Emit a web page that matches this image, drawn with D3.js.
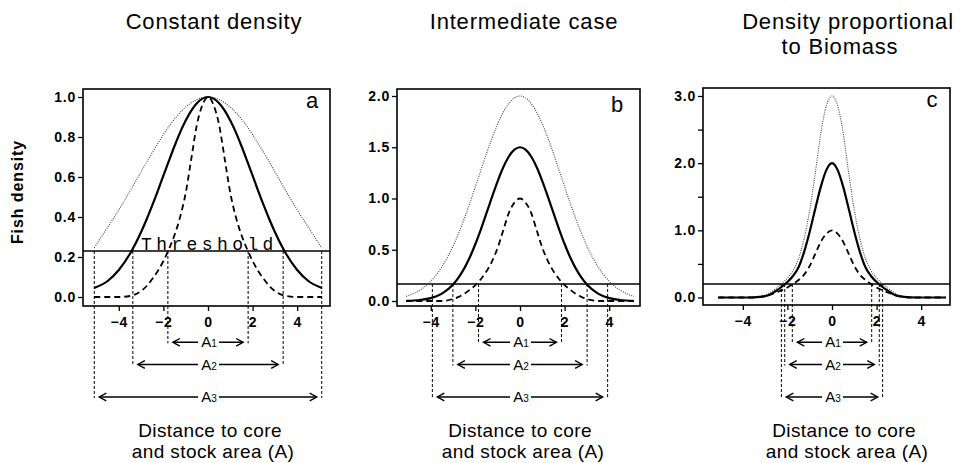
<!DOCTYPE html>
<html><head><meta charset="utf-8">
<script src="https://cdn.jsdelivr.net/npm/d3@7"></script>
<style>body{margin:0;background:#fff} svg{display:block}</style>
</head><body><svg id="chart" width="961" height="463"></svg>
<script>
// ---------- data ----------
const distance = [-5.1,-4.5,-4,-3.5,-3,-2.75,-2.5,-2.25,-2,-1.75,-1.5,-1.25,-1,-0.75,-0.5,-0.25,0,0.25,0.5,0.75,1,1.25,1.5,1.75,2,2.25,2.5,2.75,3,3.5,4,4.5,5.1];

// panel a : constant density
const aDotted = [0.245,0.349,0.435,0.529,0.626,0.675,0.722,0.768,0.812,0.853,0.890,0.922,0.949,0.971,0.987,0.997,1.000,0.997,0.987,0.971,0.949,0.922,0.890,0.853,0.812,0.768,0.722,0.675,0.626,0.529,0.435,0.349,0.245];
const aSolid  = [0.045,0.080,0.135,0.216,0.325,0.389,0.458,0.531,0.607,0.682,0.755,0.823,0.882,0.932,0.969,0.992,1.000,0.992,0.969,0.932,0.882,0.823,0.755,0.682,0.607,0.531,0.458,0.389,0.325,0.216,0.135,0.080,0.045];
const aDashed = [0,0,0,0.005,0.03,0.055,0.09,0.13,0.18,0.24,0.31,0.40,0.52,0.69,0.86,0.96,1.00,0.96,0.86,0.69,0.52,0.40,0.31,0.24,0.18,0.13,0.09,0.055,0.03,0.005,0,0,0];

// panel b : intermediate case
const bDotted = [0.045,0.104,0.193,0.334,0.537,0.663,0.803,0.955,1.115,1.278,1.440,1.592,1.728,1.842,1.928,1.982,2.000,1.982,1.928,1.842,1.728,1.592,1.440,1.278,1.115,0.955,0.803,0.663,0.537,0.334,0.193,0.104,0.045];
const bSolid  = [0.002,0.010,0.028,0.072,0.161,0.230,0.318,0.427,0.556,0.702,0.859,1.018,1.170,1.305,1.410,1.477,1.500,1.477,1.410,1.305,1.170,1.018,0.859,0.702,0.556,0.427,0.318,0.230,0.161,0.072,0.028,0.010,0.002];
const bDashed = [0,0,0,0,0.02,0.04,0.07,0.11,0.155,0.215,0.29,0.39,0.52,0.69,0.86,0.96,1.00,0.96,0.86,0.69,0.52,0.39,0.29,0.215,0.155,0.11,0.07,0.04,0.02,0,0,0,0];

// panel c : density proportional to biomass
const cDotted = [0,0,0,0.005,0.035,0.08,0.14,0.21,0.29,0.40,0.58,0.88,1.30,1.85,2.45,2.86,3.00,2.86,2.45,1.85,1.30,0.88,0.58,0.40,0.29,0.21,0.14,0.08,0.035,0.005,0,0,0];
const cSolid  = [0,0,0,0.003,0.02,0.05,0.10,0.16,0.23,0.32,0.45,0.68,0.98,1.32,1.65,1.90,2.00,1.90,1.65,1.32,0.98,0.68,0.45,0.32,0.23,0.16,0.10,0.05,0.02,0.003,0,0,0];
const cDashed = [0,0,0,0,0.02,0.045,0.075,0.11,0.15,0.20,0.26,0.34,0.47,0.65,0.83,0.95,1.00,0.95,0.83,0.65,0.47,0.34,0.26,0.20,0.15,0.11,0.075,0.045,0.02,0,0,0,0];

const thresholds = [0.23, 0.166, 0.2];
// half-widths of A1, A2, A3 (where curves cross the threshold)
const aExtent = [1.8, 3.37, 5.1];
const bExtent = [1.86, 3.01, 3.93];
const cExtent = [1.78, 2.12, 2.27];

const titles = [["Constant density"], ["Intermediate case"], ["Density proportional", "to Biomass"]];
const letters = ["a", "b", "c"];
const xTicks = [-4, -2, 0, 2, 4];
const yTicksA = [0, 0.2, 0.4, 0.6, 0.8, 1.0];
const yTicksB = [0, 0.5, 1.0, 1.5, 2.0];
const yTicksC = [0, 0.5, 1.0, 1.5, 2.0, 2.5, 3.0];
const yTopVals = [1, 2, 3];
const areaLabels = ["1", "2", "3"];
const yTitle = "Fish density";
const xTitle = ["Distance to core", "and stock area (A)"];

// ---------- layout ----------
const L = [
  {fx0:83,  fy0:89, fx1:330, fy1:306, cx:208, unit:22.3, y0:297,   yTop:97, tx:214, lx:312, ly:108, bx:211},
  {fx0:397, fy0:89, fx1:640, fy1:306, cx:520, unit:22.3, y0:301,   yTop:96, tx:524, lx:617, ly:112, bx:521},
  {fx0:703, fy0:88, fx1:950, fy1:305, cx:832, unit:22.3, y0:297.5, yTop:96, tx:848, lx:932, ly:107, bx:845}
];
const arrowY = [342.3, 364.5, 397];

const panels = [
  {dotted:aDotted, solid:aSolid, dashed:aDashed, ext:aExtent, yt:yTicksA, fmt:d=>d3.format(".1f")(d)},
  {dotted:bDotted, solid:bSolid, dashed:bDashed, ext:bExtent, yt:yTicksB, fmt:d=>d3.format(".1f")(d)},
  {dotted:cDotted, solid:cSolid, dashed:cDashed, ext:cExtent, yt:yTicksC, fmt:d=>Number.isInteger(d)?d3.format(".1f")(d):""}
];

const svg = d3.select("#chart");
const FONT = "'Liberation Sans', Arial, sans-serif";

panels.forEach((p, i) => {
  const l = L[i];
  const x = d3.scaleLinear().domain([0, 1]).range([l.cx, l.cx + l.unit]);
  const y = d3.scaleLinear().domain([0, yTopVals[i]]).range([l.y0, l.yTop]);
  const g = svg.append("g");

  // titles
  titles[i].forEach((t, k) => {
    g.append("text").attr("x", i === 2 && k === 1 ? 840 : l.tx).attr("y", 29 + k * 25)
      .attr("text-anchor", "middle").attr("font-family", FONT).attr("font-size", 22)
      .attr("letter-spacing", 0.8).attr("fill", "#000").text(t);
  });

  // frame
  g.append("rect").attr("x", l.fx0).attr("y", l.fy0).attr("width", l.fx1 - l.fx0).attr("height", l.fy1 - l.fy0)
    .attr("fill", "none").attr("stroke", "#000").attr("stroke-width", 1.6);

  // threshold line
  const ty = y(thresholds[i]);
  g.append("line").attr("x1", l.fx0).attr("x2", l.fx1).attr("y1", ty).attr("y2", ty)
    .attr("stroke", "#000").attr("stroke-width", 1.4);

  if (i === 0) {
    g.append("text").attr("x", 141).attr("y", ty - 1).attr("font-family", "'Liberation Mono', 'DejaVu Sans Mono', monospace")
      .attr("font-size", 18).attr("letter-spacing", 4.4).attr("fill", "#000").text("Threshold");
  }

  // vertical dashed guides and arrows
  p.ext.forEach((e, k) => {
    [-e, e].forEach(v => {
      g.append("line").attr("x1", x(v)).attr("x2", x(v)).attr("y1", ty).attr("y2", arrowY[k] + 1)
        .attr("stroke", "#000").attr("stroke-width", 1).attr("stroke-dasharray", "3,2");
    });
    const xl = x(-e) + 5, xr = x(e) - 5, ay = arrowY[k];
    g.append("line").attr("x1", xl).attr("x2", xr).attr("y1", ay).attr("y2", ay)
      .attr("stroke", "#000").attr("stroke-width", 1.4);
    g.append("path").attr("d", `M${xl + 7},${ay - 3.8}L${xl},${ay}L${xl + 7},${ay + 3.8}`)
      .attr("fill", "none").attr("stroke", "#000").attr("stroke-width", 1.4);
    g.append("path").attr("d", `M${xr - 7},${ay - 3.8}L${xr},${ay}L${xr - 7},${ay + 3.8}`)
      .attr("fill", "none").attr("stroke", "#000").attr("stroke-width", 1.4);
    const mid = x(0);
    g.append("rect").attr("x", mid - 10).attr("y", ay - 7).attr("width", 21).attr("height", 14).attr("fill", "#fff");
    const t = g.append("text").attr("x", mid + 1).attr("y", ay + 5).attr("text-anchor", "middle")
      .attr("font-family", FONT).attr("font-size", 15).attr("fill", "#000");
    t.append("tspan").text("A");
    t.append("tspan").attr("font-size", 10).text(areaLabels[k]);
  });

  // curves
  const line = arr => d3.line().x((d, j) => x(distance[j])).y(d => y(d)).curve(d3.curveMonotoneX)(arr);
  g.append("path").attr("d", line(p.dotted)).attr("fill", "none").attr("stroke", "#444")
    .attr("stroke-width", 1.1).attr("stroke-dasharray", "1,1.3");
  g.append("path").attr("d", line(p.dashed)).attr("fill", "none").attr("stroke", "#000")
    .attr("stroke-width", 1.8).attr("stroke-dasharray", "6,4");
  g.append("path").attr("d", line(p.solid)).attr("fill", "none").attr("stroke", "#000")
    .attr("stroke-width", 2.2);

  // axes
  const xa = g.append("g").attr("transform", `translate(0,${l.fy1})`)
    .call(d3.axisBottom(x).tickValues(xTicks).tickSize(5).tickPadding(6).tickFormat(d3.format("d")));
  const ya = g.append("g").attr("transform", `translate(${l.fx0},0)`)
    .call(d3.axisLeft(y).tickValues(p.yt).tickSize(5).tickPadding(2).tickFormat(p.fmt));
  [xa, ya].forEach(a => {
    a.select(".domain").remove();
    a.selectAll("line").attr("stroke", "#000").attr("stroke-width", 1.3);
    a.selectAll("text").attr("font-family", FONT).attr("font-size", 14).attr("font-weight", "bold")
      .attr("letter-spacing", 0.8).attr("fill", "#000");
  });

  // panel letter
  g.append("text").attr("x", l.lx).attr("y", l.ly).attr("text-anchor", "middle").attr("font-family", FONT)
    .attr("font-size", 22).attr("fill", "#000").text(letters[i]);

  // x titles
  xTitle.forEach((t, k) => {
    g.append("text").attr("x", l.bx + (k ? 2 : -1)).attr("y", 437 + k * 20.5).attr("text-anchor", "middle")
      .attr("font-family", FONT).attr("font-size", 19).attr("letter-spacing", 0.4).attr("fill", "#000").text(t);
  });
});

// y title
svg.append("text").attr("transform", "translate(23,192) rotate(-90)").attr("text-anchor", "middle")
  .attr("font-family", FONT).attr("font-size", 16).attr("font-weight", "bold").attr("letter-spacing", 0.9)
  .attr("fill", "#000").text(yTitle);
</script>
</body></html>
